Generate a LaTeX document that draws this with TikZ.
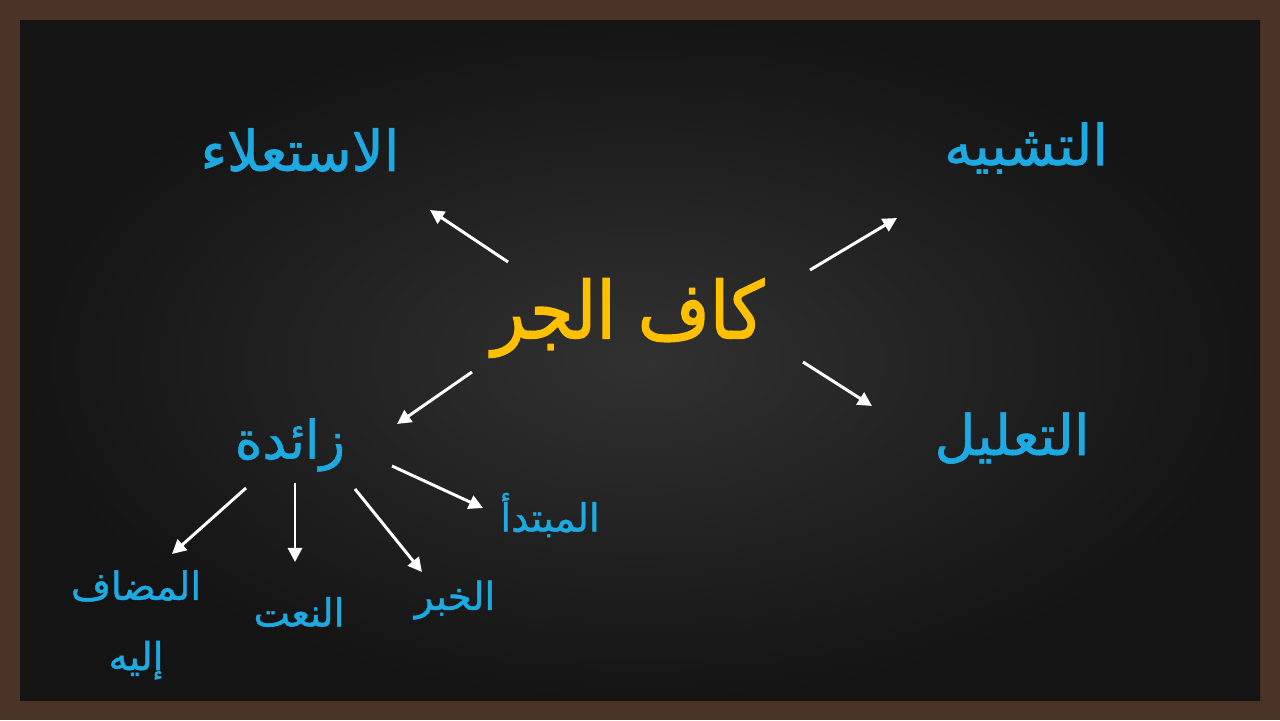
\documentclass[tikz,border=0pt]{standalone}
\usepackage{fontspec}
\newfontfamily\arabicfont[Script=Arabic, FakeBold=1.2]{DejaVu Sans}
\newfontfamily\arabicnarrow[Script=Arabic, FakeBold=1.6, FakeStretch=0.88]{DejaVu Sans}
\TeXXeTstate=1
\usetikzlibrary{arrows.meta, positioning}
\definecolor{boardframe}{HTML}{4A3425}
\definecolor{boardin}{HTML}{313131}
\definecolor{boardout}{HTML}{141414}
\definecolor{chalkblue}{HTML}{1DA9E1}
\definecolor{chalkgold}{HTML}{FFC000}
\tikzset{
  arr/.style={draw=white, line width=1.7pt, -{Triangle[length=8pt, width=8pt]}},
  bigword/.style={text=chalkblue, font=\arabicfont\fontsize{32}{38}\selectfont},
  smallword/.style={text=chalkblue, font=\arabicfont\fontsize{22}{26}\selectfont},
}
\newcommand{\ar}[1]{\beginR #1\endR}

\begin{document}
\begin{tikzpicture}[x=0.02cm, y=-0.02cm]
    % board
    \useasboundingbox (0,0) rectangle (1280,720);
    \fill[boardframe] (0,0) rectangle (1280,720);
    \shade[inner color=boardin, outer color=boardout] (20,20) rectangle (1260,700);

    % words
    \node[text=chalkgold, font=\arabicnarrow\fontsize{45}{54}\selectfont] (jar) at (628,318) {\ar{كاف الجر}};
    \node[bigword] (istila) at (300,150) {\ar{الاستعلاء}};
    \node[bigword] (tashbih) at (1026,148) {\ar{التشبيه}};
    \node[bigword] (talil) at (1012,438) {\ar{التعليل}};
    \node[bigword, font=\arabicfont\fontsize{30}{36}\selectfont] (zaida) at (290,445) {\ar{زائدة}};
    \node[smallword, align=center] (mudaf) at (136,625) {\ar{المضاف}\\[14pt]\ar{إليه}};
    \node[smallword] (naat) at (299,612) {\ar{النعت}};
    \node[smallword] (khabar) at (455,600) {\ar{الخبر}};
    \node[smallword] (mubtada) at (550,515) {\ar{المبتدأ}};

    % arrow ends
    \coordinate (j1) at (508,262);
    \coordinate (j2) at (810,270);
    \coordinate (j3) at (803,362);
    \coordinate (j4) at (472,372);
    \coordinate (i1) at (430,210);
    \coordinate (t1) at (897,218);
    \coordinate (l1) at (872,406);
    \coordinate (z1) at (397,424);
    \coordinate (za) at (246,488);
    \coordinate (zb) at (295,483);
    \coordinate (zc) at (355,489);
    \coordinate (zd) at (392,466);
    \coordinate (ma) at (172,554);
    \coordinate (na) at (295,562);
    \coordinate (kh) at (422,572);
    \coordinate (mu) at (483,508);

    \draw[arr] (j1) -- (i1);
    \draw[arr] (j2) -- (t1);
    \draw[arr] (j3) -- (l1);
    \draw[arr] (j4) -- (z1);
    \draw[arr] (za) -- (ma);
    \draw[arr] (zb) -- (na);
    \draw[arr] (zc) -- (kh);
    \draw[arr] (zd) -- (mu);
\end{tikzpicture}
\end{document}
